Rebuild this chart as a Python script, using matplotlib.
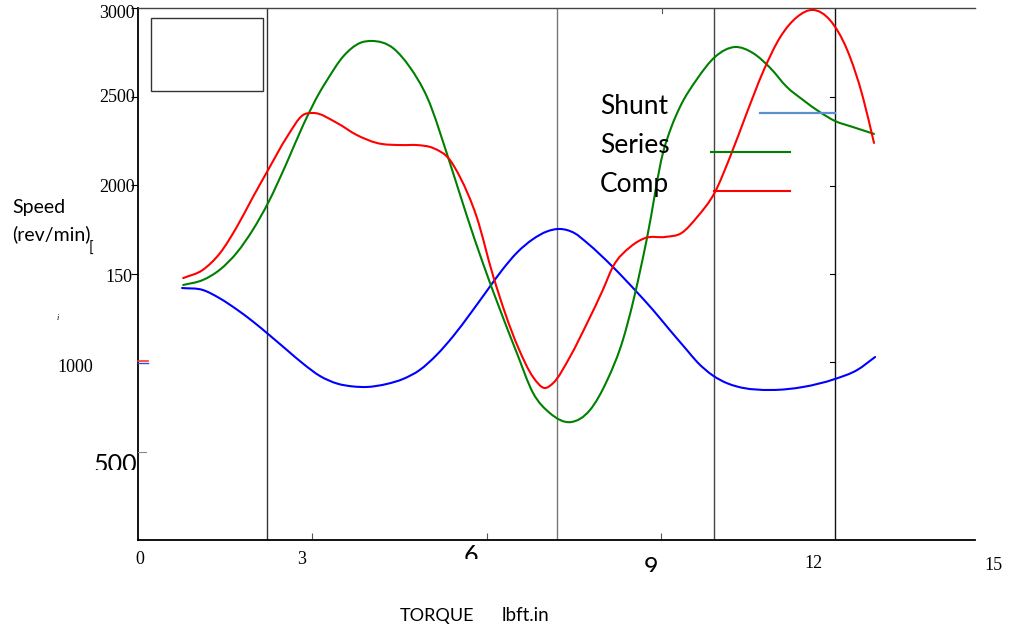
import matplotlib
matplotlib.use("Agg")
import matplotlib.pyplot as plt
from matplotlib.lines import Line2D
from matplotlib.patches import Rectangle, PathPatch
from matplotlib.path import Path
from matplotlib.transforms import Bbox

# ---- data ----
shunt_x = [0.79, 1.16, 1.47, 1.77, 2.06, 2.33, 2.67, 2.96, 3.26, 3.57, 3.85, 4.10, 4.46, 4.75,
           5.05, 5.35, 5.65, 5.95, 6.25, 6.52, 6.79, 7.08, 7.33, 7.56, 7.82, 8.05, 8.51,
           8.94, 9.23, 9.53, 9.84, 10.02, 10.30, 10.55, 10.73, 11.36, 11.92, 12.49, 12.89, 13.21]
shunt_y = [1421, 1410, 1362, 1300, 1232, 1162, 1071, 994, 925, 882, 866, 863, 880, 908,
           959, 1043, 1150, 1274, 1404, 1520, 1620, 1697, 1740, 1754, 1731, 1675, 1540,
           1398, 1297, 1184, 1070, 1004, 928, 885, 866, 846, 863, 908, 959, 1032]

series_x = [0.81, 1.16, 1.47, 1.77, 2.06, 2.33, 2.67, 2.96, 3.26, 3.39, 3.67, 3.98, 4.19, 4.57,
            4.87, 5.18, 5.59, 5.90, 6.18, 6.49, 6.79, 7.08, 7.38, 7.76, 8.10, 8.41, 8.69, 8.87,
            9.00, 9.12, 9.41, 9.56, 9.71, 10.02, 10.34, 10.70, 11.02, 11.33, 11.63, 11.92,
            12.22, 12.49, 12.81, 13.19]
series_y = [1438, 1466, 1525, 1620, 1750, 1900, 2130, 2340, 2527, 2594, 2724, 2803, 2814, 2774,
            2667, 2498, 2126, 1821, 1562, 1297, 1054, 829, 716, 665, 733, 902, 1128, 1340,
            1520, 1700, 2185, 2330, 2440, 2600, 2724, 2780, 2746, 2662, 2554, 2481,
            2413, 2363, 2329, 2290]

comp_x = [0.81, 1.16, 1.47, 1.77, 2.06, 2.33, 2.67, 2.96, 3.14, 3.57, 3.92, 4.28, 4.75, 5.00,
          5.29, 5.59, 5.77, 6.07, 6.36, 6.81, 7.08, 7.29, 7.44, 7.74, 8.05, 8.33, 8.51, 8.82,
          9.09, 9.45, 9.74, 10.02, 10.34, 10.61, 10.91, 11.20, 11.51, 11.81, 12.10, 12.40,
          12.71, 12.99, 13.19]
comp_y = [1477, 1523, 1618, 1765, 1934, 2086, 2273, 2397, 2408, 2351, 2284, 2239, 2227, 2227,
          2210, 2143, 2047, 1821, 1494, 1088, 919, 857, 885, 1032, 1224, 1410, 1540, 1652,
          1703, 1709, 1731, 1821, 1962, 2160, 2408, 2639, 2836, 2949, 2989, 2932,
          2763, 2498, 2239]

series_names = ["Shunt", "Series", "Comp"]
grid_x = [2.31, 7.50, 10.32, 12.49]

W, H = 1010, 630
fig = plt.figure(figsize=(W / 100, H / 100), dpi=100)
ax = fig.add_axes([138 / W, 1 - 540 / H, (975 - 138) / W, (540 - 8) / H])
ax.set_xlim(0, 15)
ax.set_ylim(0, 3000)


def P(x, y):
    return (x / W, 1 - y / H)


def pline(xs, ys, **kw):
    fx = [x / W for x in xs]
    fy = [1 - y / H for y in ys]
    fig.add_artist(Line2D(fx, fy, transform=fig.transFigure, **kw))


def smooth_line(xs, ys, color):
    """Draw a smooth curve through the given points (cubic Hermite as Bezier path)."""
    n = len(xs)
    m = []
    for i in range(n):
        if i == 0:
            m.append((ys[1] - ys[0]) / (xs[1] - xs[0]))
        elif i == n - 1:
            m.append((ys[-1] - ys[-2]) / (xs[-1] - xs[-2]))
        else:
            h0 = xs[i] - xs[i - 1]
            h1 = xs[i + 1] - xs[i]
            s0 = (ys[i] - ys[i - 1]) / h0
            s1 = (ys[i + 1] - ys[i]) / h1
            m.append((s0 * h1 + s1 * h0) / (h0 + h1))
    verts = [(xs[0], ys[0])]
    codes = [Path.MOVETO]
    for i in range(n - 1):
        h = xs[i + 1] - xs[i]
        verts += [(xs[i] + h / 3, ys[i] + m[i] * h / 3),
                  (xs[i + 1] - h / 3, ys[i + 1] - m[i + 1] * h / 3),
                  (xs[i + 1], ys[i + 1])]
        codes += [Path.CURVE4] * 3
    ax.add_patch(PathPatch(Path(verts, codes), fill=False, edgecolor=color, lw=1.5,
                           zorder=3, capstyle="round", joinstyle="round"))


# spines
ax.spines["right"].set_visible(False)
ax.spines["top"].set_color("#444444")
ax.spines["top"].set_linewidth(1.0)
for s in ("left", "bottom"):
    ax.spines[s].set_color("black")
    ax.spines[s].set_linewidth(1.3)

ax.set_yticks([1500, 2000, 2500, 3000])
ax.set_yticklabels([])
ax.tick_params(axis="y", direction="out", length=5, width=0.8, color="black")
ax.set_xticks([3.12, 6.25, 9.37])
ax.set_xticklabels([])
ax.tick_params(axis="x", direction="in", length=5, width=0.8, color="#555555")

# vertical lines
vcols = ["#333333", "#777777", "#444444", "#111111"]
for gx, c in zip(grid_x, vcols):
    ax.axvline(gx, color=c, lw=1.0, zorder=1)

# curves
smooth_line(shunt_x, shunt_y, "#0000ff")
smooth_line(series_x, series_y, "#008000")
smooth_line(comp_x, comp_y, "#ff0000")

# empty box at top-left
fig.add_artist(Rectangle(P(151, 91), 112 / W, 73 / H, transform=fig.transFigure,
                         fill=False, edgecolor="#333333", lw=1.0))

# extra small ticks
pline([662, 662], [8, 13], color="#555555", lw=0.8)
for ty in [97, 186, 274, 362]:
    pline([830, 835], [ty, ty], color="black", lw=0.8)
pline([138, 146], [452, 452], color="#888888", lw=0.8)
pline([138, 148], [361, 361], color="#ff3333", lw=1.2)
pline([138, 148], [363, 363], color="#3355cc", lw=1.0)

# legend
pline([760, 835], [113, 113], color="#5b8fd0", lw=1.6)
pline([711, 790], [152, 152], color="#008000", lw=1.5)
pline([714, 790], [191, 191], color="#ff0000", lw=1.5)
sans = ["Lato", "DejaVu Sans"]
serif = ["Liberation Serif", "DejaVu Serif"]
for name, by in zip(series_names, [114, 153, 192]):
    fig.text(*P(600, by), name, fontsize=19, family=sans, va="baseline", ha="left")

# y tick labels (as drawn)
for lab, x, y in [("3000", 135, 14), ("2500", 135, 98), ("2000", 135, 187),
                  ("150", 132, 277), ("1000", 93, 368)]:
    fig.text(*P(x, y), lab, fontsize=13, family=serif, ha="right", va="center")

# x tick labels (as drawn)
for lab, x, y in [("0", 140, 560), ("3", 302, 560), ("12", 813, 563), ("15", 993, 566)]:
    fig.text(*P(x, y), lab, fontsize=13, family=serif, ha="center", va="center")


def clipped(txt, x, baseline, clip_y, size=18):
    t = fig.text(*P(x, baseline), txt, fontsize=size, family=sans, ha="left", va="baseline")
    t.set_clip_box(Bbox.from_extents(0, H - clip_y, W, H))
    t.set_clip_on(True)
    return t


clipped("500", 94, 472, 470)
clipped("6", 464, 563, 559)
clipped("9", 644, 575, 572)

# axis titles
fig.text(*P(12, 213), "Speed", fontsize=14, family=sans, va="baseline")
fig.text(*P(12, 240), "(rev/min)", fontsize=14, family=sans, va="baseline")
fig.text(*P(89, 253), "[", fontsize=11, family=sans, va="baseline")
fig.text(*P(57, 320), "i", fontsize=6, family=serif, style="italic", va="baseline")
fig.text(*P(400, 621), "TORQUE", fontsize=13, family=sans, va="baseline")
fig.text(*P(502, 621), "lbft.in", fontsize=13.5, family=sans, va="baseline")

fig.savefig("out.png", dpi=100)
